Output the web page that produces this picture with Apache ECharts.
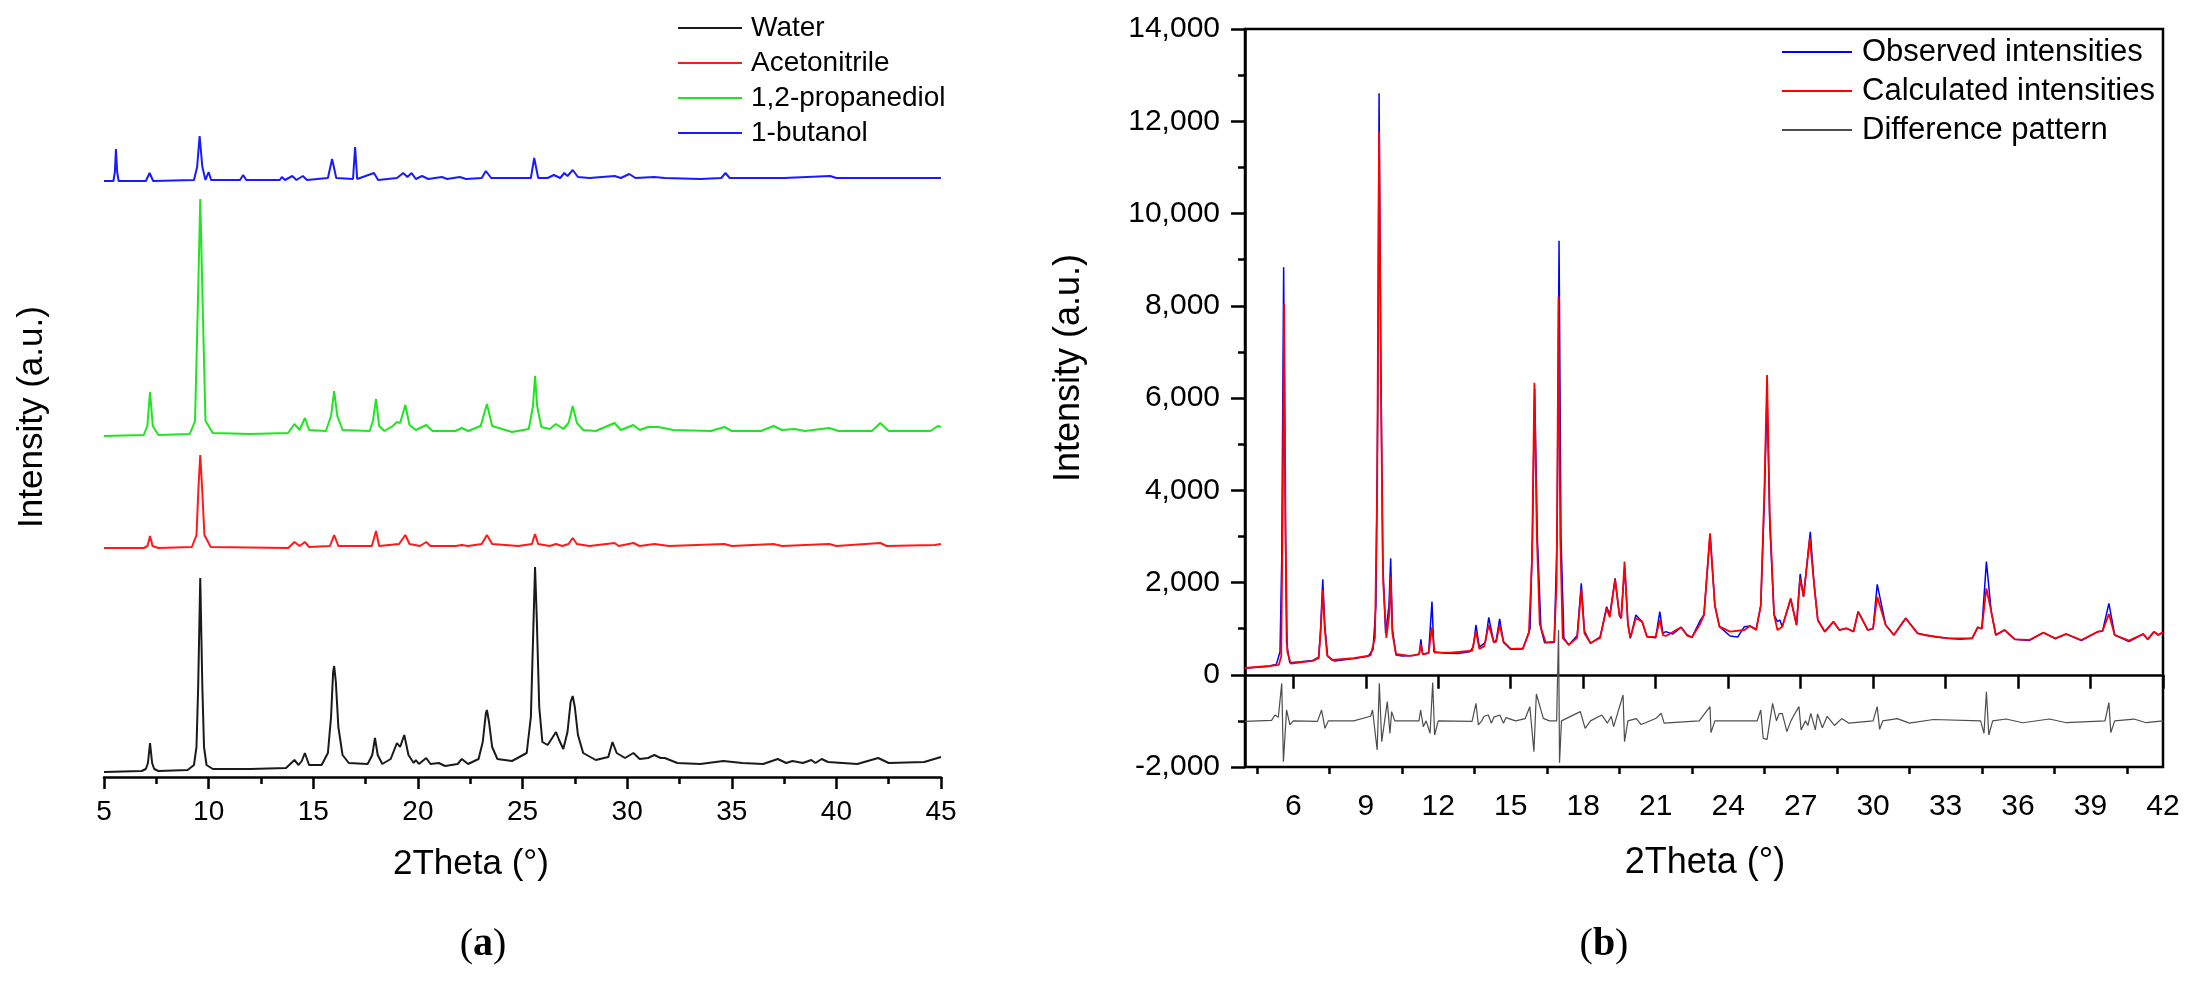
<!DOCTYPE html>
<html>
<head>
<meta charset="utf-8">
<script src="https://cdn.jsdelivr.net/npm/echarts@6/dist/echarts.min.js"></script>
<style>
html,body{margin:0;padding:0;background:#fff;}
#chart{width:2195px;height:981px;}
</style>
</head>
<body>
<div id="chart"></div>
<script>
// ---------- Panel (a): PXRD patterns, intensities in a.u. (own baseline) ----------
const seriesNamesA = ['Water', 'Acetonitrile', '1,2-propanediol', '1-butanol'];
const offsetsA = [0, 222, 336, 590];   // vertical stacking offsets (a.u.)
const ticksA = [5, 10, 15, 20, 25, 30, 35, 40, 45];

const water = [[5,5],[6.8,6],[7.0,8],[7.1,14],[7.2,34],[7.3,14],[7.4,8],[7.6,6],[9.0,7],[9.3,12],[9.42,30],[9.5,90],[9.6,199],[9.7,90],[9.78,30],[9.9,12],[10.2,8],[12,8],[13.7,9],[13.95,14],[14.1,17],[14.3,12],[14.45,16],[14.6,24],[14.8,12],[15.4,12],[15.7,24],[15.85,60],[15.95,105],[16.0,111],[16.08,95],[16.2,50],[16.4,22],[16.7,14],[17.6,13],[17.82,22],[17.95,39],[18.08,22],[18.3,13],[18.7,18],[19.0,34],[19.15,30],[19.35,42],[19.55,22],[19.8,14],[19.9,17],[20.05,13],[20.4,19],[20.6,13],[21.0,14],[21.3,11],[21.9,13],[22.1,18],[22.4,13],[22.9,18],[23.1,35],[23.25,64],[23.3,67],[23.4,55],[23.55,30],[23.8,18],[24.5,16],[25.2,24],[25.4,60],[25.52,150],[25.6,210],[25.68,160],[25.8,70],[25.95,35],[26.2,32],[26.45,40],[26.6,45],[26.75,37],[26.95,28],[27.15,45],[27.3,75],[27.4,81],[27.5,70],[27.65,42],[27.9,24],[28.5,17],[29.1,20],[29.3,35],[29.5,24],[29.9,19],[30.3,24],[30.6,18],[31.0,19],[31.3,22],[31.6,19],[31.8,19],[32.4,14],[33.5,13],[34.6,16],[35.5,14],[36.5,13],[37.2,18],[37.6,14],[37.9,16],[38.4,14],[38.8,17],[39.0,14],[39.3,18],[39.6,15],[41,13],[42.0,19],[42.5,14],[44.2,15],[45,20]];

const acetonitrile = [[5,7],[6.9,7],[7.08,9],[7.2,19],[7.32,9],[7.6,7],[9.2,8],[9.42,20],[9.52,70],[9.6,100],[9.68,70],[9.8,20],[10.1,8],[13.8,7],[14.1,13],[14.35,9],[14.6,13],[14.8,8],[15.8,9],[16.0,20],[16.2,9],[17.8,9],[18.0,24],[18.15,9],[19.1,11],[19.4,20],[19.6,11],[20.1,9],[20.4,13],[20.6,9],[21.8,9],[22.1,10],[22.4,9],[23.05,11],[23.3,20],[23.55,11],[24.8,9],[25.45,11],[25.6,21],[25.75,11],[26.3,9],[26.6,11],[26.9,9],[27.2,11],[27.4,17],[27.6,11],[28.2,9],[29.4,12],[29.6,9],[30.3,12],[30.6,9],[31.3,11],[32,9],[34.65,11],[35,9],[37.0,11],[37.4,9],[39.65,11],[40,9],[42.1,12],[42.4,9],[44.7,10],[45,11]];

const propanediol = [[5,5],[6.9,6],[7.07,15],[7.2,49],[7.33,15],[7.6,6],[9.1,7],[9.35,20],[9.5,150],[9.6,242],[9.7,150],[9.85,20],[10.2,8],[12,7],[13.8,8],[14.1,17],[14.35,11],[14.6,23],[14.8,11],[15.6,10],[15.85,25],[16.0,50],[16.15,25],[16.4,11],[17.7,10],[17.85,20],[18.0,42],[18.15,15],[18.4,10],[18.8,15],[19.0,19],[19.15,18],[19.4,36],[19.6,16],[19.9,11],[20.4,16],[20.7,10],[21.8,10],[22.1,13],[22.4,10],[23.0,15],[23.3,37],[23.55,15],[24.5,9],[25.3,12],[25.5,35],[25.6,65],[25.7,35],[25.9,14],[26.3,12],[26.6,17],[26.95,12],[27.2,18],[27.4,35],[27.6,18],[27.9,11],[28.5,10],[29.4,18],[29.7,11],[30.3,16],[30.6,11],[31.0,14],[31.5,14],[32.2,11],[34.0,10],[34.65,14],[35.0,10],[36.4,10],[37.0,15],[37.4,11],[38.0,12],[38.5,10],[39.65,13],[40.1,10],[41.7,10],[42.1,18],[42.5,10],[44.5,10],[44.85,15],[45,14]];

const butanol = [[5,6],[5.45,6],[5.52,15],[5.57,38],[5.63,15],[5.7,6],[7.0,6],[7.18,14],[7.35,6],[9.3,7],[9.45,20],[9.57,51],[9.7,20],[9.85,7],[10.0,15],[10.12,7],[11.5,7],[11.65,12],[11.8,7],[13.4,7],[13.5,10],[13.65,7],[14.0,11],[14.2,7],[14.5,11],[14.7,7],[15.7,9],[15.9,28],[16.1,9],[16.9,8],[17.0,40],[17.1,8],[17.9,14],[18.1,7],[19.0,9],[19.3,14],[19.5,10],[19.7,14],[19.9,8],[20.2,11],[20.5,8],[21.15,10],[21.4,8],[22.0,10],[22.3,8],[23.05,9],[23.25,16],[23.5,9],[25.4,9],[25.56,29],[25.75,9],[26.2,9],[26.5,12],[26.8,9],[27.0,14],[27.15,11],[27.4,17],[27.65,10],[28.2,9],[29.4,11],[29.7,9],[30.1,13],[30.4,9],[31.3,10],[31.8,9],[33.5,8],[34.5,9],[34.7,14],[34.9,9],[37.5,9],[39.7,11],[40.0,9],[45,9]];

// ---------- Panel (b): Rietveld refinement ----------
const seriesNamesB = ['Observed intensities', 'Calculated intensities', 'Difference pattern'];
const ticksB = [6, 9, 12, 15, 18, 21, 24, 27, 30, 33, 36, 39, 42];
const minorTicksB = [4.5, 7.5, 10.5, 13.5, 16.5, 19.5, 22.5, 25.5, 28.5, 31.5, 34.5, 37.5, 40.5];

const observed = [[4,140],[4.5,160],[5.0,185],[5.3,230],[5.45,500],[5.52,2500],[5.6,8837],[5.66,4000],[5.72,700],[5.85,260],[6.3,280],[6.8,310],[7.05,380],[7.13,1000],[7.22,2069],[7.3,1100],[7.42,400],[7.7,300],[8.2,330],[8.6,356],[9.1,400],[9.3,550],[9.42,1500],[9.5,6000],[9.55,12605],[9.62,7000],[9.7,2500],[9.82,900],[9.96,1500],[10.03,2524],[10.1,1000],[10.25,430],[10.5,407],[11.0,420],[11.22,450],[11.28,768],[11.35,450],[11.6,470],[11.74,1585],[11.82,500],[12.2,470],[12.8,460],[13.3,500],[13.45,600],[13.56,1079],[13.7,600],[13.95,700],[14.09,1245],[14.3,700],[14.4,750],[14.54,1209],[14.7,700],[15.0,551],[15.5,560],[15.8,1000],[15.9,3000],[15.99,6200],[16.1,3000],[16.25,1000],[16.4,696],[16.8,700],[16.92,3000],[17.0,9411],[17.08,3000],[17.2,800],[17.4,645],[17.75,850],[17.92,1982],[18.05,950],[18.3,681],[18.7,820],[18.97,1476],[19.1,1300],[19.32,2091],[19.5,1280],[19.56,1224],[19.72,2320],[19.85,1100],[19.95,790],[20.18,1296],[20.44,1151],[20.64,826],[21.0,800],[21.17,1368],[21.3,900],[21.42,934],[21.7,880],[22.05,1028],[22.3,870],[22.5,812],[22.84,1173],[23.0,1300],[23.25,3050],[23.45,1500],[23.64,1043],[24.08,840],[24.4,820],[24.67,1043],[24.9,1057],[25.16,990],[25.35,1500],[25.5,3800],[25.61,6100],[25.72,3300],[25.9,1300],[26.04,1151],[26.14,1187],[26.24,1043],[26.59,1635],[26.83,1079],[26.98,2185],[27.12,1693],[27.4,3100],[27.55,2000],[27.71,1187],[28.0,934],[28.36,1151],[28.6,970],[28.9,1007],[29.19,934],[29.38,1368],[29.78,970],[30.0,1000],[30.17,1961],[30.52,1079],[30.86,862],[31.35,1224],[31.84,898],[32.13,862],[32.6,820],[33.1,790],[33.6,770],[34.1,790],[34.33,1028],[34.5,1000],[34.69,2452],[34.89,1368],[35.08,862],[35.44,970],[35.87,768],[36.46,740],[37.05,913],[37.54,780],[37.99,884],[38.62,740],[39.31,934],[39.5,950],[39.76,1549],[40.0,862],[40.59,720],[41.18,884],[41.37,768],[41.63,934],[41.8,862],[42,913]];

const calculated = [[4,146],[5.0,190],[5.4,215],[5.5,400],[5.56,3500],[5.62,8035],[5.68,3000],[5.75,500],[5.9,240],[6.8,300],[7.05,360],[7.13,900],[7.22,1838],[7.3,1000],[7.4,420],[7.6,320],[8.5,360],[9.2,420],[9.38,800],[9.47,4000],[9.55,11774],[9.63,6000],[9.72,2000],[9.85,800],[9.97,1300],[10.03,2127],[10.1,900],[10.25,450],[10.8,410],[11.2,440],[11.28,660],[11.36,440],[11.6,470],[11.74,1028],[11.85,480],[12.5,480],[13.4,520],[13.56,934],[13.7,560],[13.9,620],[14.09,1079],[14.3,700],[14.4,720],[14.54,1079],[14.7,720],[15.0,560],[15.5,570],[15.75,900],[15.88,2500],[15.98,6333],[16.08,3000],[16.2,1100],[16.45,700],[16.8,720],[16.9,2000],[16.98,8197],[17.05,3000],[17.15,800],[17.4,650],[17.75,800],[17.92,1852],[18.05,900],[18.3,690],[18.7,800],[18.97,1440],[19.1,1250],[19.32,2055],[19.5,1300],[19.58,1224],[19.71,2452],[19.85,1100],[19.95,800],[20.18,1224],[20.44,1151],[20.64,826],[21.0,820],[21.17,1187],[21.3,860],[21.42,840],[22.05,1028],[22.3,850],[22.5,812],[22.84,1100],[23.0,1300],[23.25,3066],[23.45,1500],[23.64,1043],[24.08,934],[24.67,970],[24.9,1057],[25.16,970],[25.35,1500],[25.5,4000],[25.61,6499],[25.72,3500],[25.9,1300],[26.04,970],[26.24,1043],[26.59,1657],[26.83,1079],[26.98,2091],[27.12,1693],[27.38,2958],[27.55,2000],[27.71,1187],[28.0,934],[28.36,1151],[28.6,970],[28.9,1007],[29.19,934],[29.38,1368],[29.78,970],[30.0,1000],[30.17,1693],[30.52,1079],[30.86,862],[31.35,1224],[31.84,898],[32.13,862],[33.1,790],[34.1,790],[34.33,1028],[34.5,1000],[34.69,1874],[34.89,1368],[35.08,862],[35.44,970],[35.87,768],[36.46,754],[37.05,913],[37.54,790],[37.99,884],[38.62,754],[39.31,934],[39.5,950],[39.76,1317],[40.0,862],[40.59,739],[41.18,884],[41.37,768],[41.63,934],[41.8,862],[41.96,913],[42,913]];

const difference = [[4,-1010],[5.1,-990],[5.24,-872],[5.38,-920],[5.52,-186],[5.59,-1884],[5.72,-764],[5.86,-1089],[6.0,-1000],[7.0,-1010],[7.17,-764],[7.31,-1161],[7.45,-1000],[8.5,-1000],[9.2,-900],[9.28,-764],[9.47,-1631],[9.56,-186],[9.66,-1450],[9.78,-1000],[9.89,-583],[10.0,-1270],[10.07,-800],[10.2,-1000],[11.2,-1000],[11.27,-764],[11.38,-1125],[11.5,-1000],[11.66,-1270],[11.77,-171],[11.85,-1306],[12.0,-1000],[13.4,-1010],[13.56,-619],[13.66,-1089],[13.8,-1000],[13.9,-900],[14.07,-872],[14.2,-1050],[14.3,-920],[14.55,-872],[14.7,-1050],[14.8,-930],[15.2,-1000],[15.6,-950],[15.79,-692],[15.96,-1667],[16.06,-417],[16.21,-692],[16.35,-945],[16.6,-1000],[16.9,-1000],[16.98,970],[17.02,-1906],[17.1,-1000],[17.88,-800],[18.08,-1161],[18.3,-1000],[18.77,-872],[19.0,-1050],[19.16,-900],[19.26,-1125],[19.65,-439],[19.71,-1450],[19.85,-1000],[20.2,-950],[20.4,-1080],[21.0,-950],[21.23,-836],[21.35,-1050],[22.8,-1000],[23.25,-692],[23.29,-1255],[23.45,-1000],[25.2,-1000],[25.35,-764],[25.45,-1378],[25.61,-1400],[25.84,-620],[26.0,-1000],[26.1,-850],[26.24,-836],[26.43,-1233],[26.6,-1000],[26.7,-900],[26.93,-692],[27.02,-1197],[27.2,-1000],[27.3,-1100],[27.42,-836],[27.61,-1197],[27.7,-850],[27.9,-1150],[28.1,-900],[28.4,-1100],[28.7,-950],[29.0,-1050],[30.0,-1000],[30.17,-692],[30.27,-1183],[30.4,-1000],[31.0,-950],[31.5,-1050],[32.5,-970],[34.45,-1000],[34.59,-1270],[34.69,-367],[34.79,-1306],[34.95,-1000],[35.5,-960],[36.2,-1040],[37.3,-960],[38.0,-1040],[39.6,-1000],[39.76,-605],[39.84,-1255],[40.0,-1000],[40.8,-960],[41.3,-1040],[42,-1000]];

// ---------- build ----------
const FONT = '"Liberation Sans", Arial, sans-serif';
const colorsA = ['#1a1a1a', '#ff1a1a', '#1ee61e', '#1a1aff'];
const dataA = [water, acetonitrile, propanediol, butanol];
const colorsB = ['#0000ff', '#ff0000', '#4d4d4d'];
const widthsB = [1.5, 1.8, 1.2];
const dataB = [observed, calculated, difference];

const axisLine = {show: true, lineStyle: {color: '#000', width: 2.5}};
const tickStyle = {color: '#000', width: 2.5};

const seriesA = dataA.map((d, i) => ({
  name: seriesNamesA[i], type: 'line', xAxisIndex: 0, yAxisIndex: 0,
  symbol: 'none', silent: true, animation: false,
  lineStyle: {color: colorsA[i], width: 2}, itemStyle: {color: colorsA[i]},
  data: d.map(p => [p[0], p[1] + offsetsA[i]])
}));
const seriesB = dataB.map((d, i) => ({
  name: seriesNamesB[i], type: 'line', xAxisIndex: 1, yAxisIndex: 1,
  symbol: 'none', silent: true, animation: false,
  lineStyle: {color: colorsB[i], width: widthsB[i]}, itemStyle: {color: colorsB[i]},
  data: d
}));

const chart = echarts.init(document.getElementById('chart'), null, {renderer: 'canvas'});
chart.setOption({
  animation: false,
  backgroundColor: '#fff',
  grid: [
    {left: 104, top: 20, width: 837, height: 757, show: false},
    {left: 1245, top: 29, width: 918, height: 738, show: true, borderColor: '#000', borderWidth: 2.5, backgroundColor: 'transparent'}
  ],
  xAxis: [
    {type: 'value', gridIndex: 0, min: 5, max: 45, interval: 5,
     axisLine: axisLine, splitLine: {show: false},
     axisTick: {show: true, length: 12, lineStyle: tickStyle},
     minorTick: {show: true, splitNumber: 2, length: 7, lineStyle: tickStyle},
     axisLabel: {color: '#000', fontSize: 28, fontFamily: FONT, margin: 21,
       customValues: ticksA}},
    {type: 'value', gridIndex: 1, min: 4, max: 42, position: 'bottom',
     axisLine: axisLine, splitLine: {show: false},
     axisTick: {show: true, length: 14, lineStyle: tickStyle, customValues: ticksB},
     axisLabel: {color: '#000', fontSize: 30, fontFamily: FONT, margin: 25, customValues: ticksB}},
    {type: 'value', gridIndex: 1, min: 4, max: 42, position: 'bottom',
     axisLine: {show: false}, splitLine: {show: false},
     axisTick: {show: true, length: 7, lineStyle: tickStyle, customValues: minorTicksB},
     axisLabel: {show: false}}
  ],
  yAxis: [
    {type: 'value', gridIndex: 0, min: 0, max: 757, show: false, splitLine: {show: false}},
    {type: 'value', gridIndex: 1, min: -2000, max: 14000, interval: 2000,
     axisLine: axisLine, splitLine: {show: false},
     axisTick: {show: true, length: 14, lineStyle: tickStyle},
     minorTick: {show: true, splitNumber: 2, length: 7, lineStyle: tickStyle},
     axisLabel: {color: '#000', fontSize: 30, fontFamily: FONT, margin: 25,
       formatter: v => v.toLocaleString('en-US')}}
  ],
  legend: [
    {data: seriesNamesA, orient: 'vertical', left: 678, top: 10.5, padding: 0,
     icon: 'rect', itemWidth: 64, itemHeight: 2, itemGap: 0,
     textStyle: {fontSize: 28, fontFamily: FONT, color: '#000', lineHeight: 35, padding: [0, 0, 0, 4]}},
    {data: seriesNamesB, orient: 'vertical', left: 1782, top: 32.5, padding: 0,
     icon: 'rect', itemWidth: 70, itemHeight: 2, itemGap: 0,
     textStyle: {fontSize: 31, fontFamily: FONT, color: '#000', lineHeight: 39, padding: [0, 0, 0, 5]}}
  ],
  graphic: [
    {type: 'text', x: 32, y: 417, rotation: Math.PI / 2, silent: true,
     style: {text: 'Intensity (a.u.)', font: '35px ' + FONT, fill: '#000', textAlign: 'center', textVerticalAlign: 'middle'}},
    {type: 'text', x: 471, y: 864, silent: true,
     style: {text: '2Theta (°)', font: '35px ' + FONT, fill: '#000', textAlign: 'center', textVerticalAlign: 'middle'}},
    {type: 'text', x: 1069, y: 368, rotation: Math.PI / 2, silent: true,
     style: {text: 'Intensity (a.u.)', font: '36px ' + FONT, fill: '#000', textAlign: 'center', textVerticalAlign: 'middle'}},
    {type: 'text', x: 1705, y: 863, silent: true,
     style: {text: '2Theta (°)', font: '36px ' + FONT, fill: '#000', textAlign: 'center', textVerticalAlign: 'middle'}},
    {type: 'text', x: 483, y: 945, silent: true,
     style: {text: '{p|(}{b|a}{p|)}', textAlign: 'center', textVerticalAlign: 'middle',
       rich: {p: {fontSize: 40, fontFamily: '"Liberation Serif", serif', fill: '#000', color: '#000'},
              b: {fontSize: 40, fontWeight: 'bold', fontFamily: '"Liberation Serif", serif', fill: '#000', color: '#000'}}}},
    {type: 'text', x: 1604, y: 945, silent: true,
     style: {text: '{p|(}{b|b}{p|)}', textAlign: 'center', textVerticalAlign: 'middle',
       rich: {p: {fontSize: 40, fontFamily: '"Liberation Serif", serif', fill: '#000', color: '#000'},
              b: {fontSize: 40, fontWeight: 'bold', fontFamily: '"Liberation Serif", serif', fill: '#000', color: '#000'}}}}
  ],
  series: seriesA.concat(seriesB)
});
</script>
</body>
</html>
